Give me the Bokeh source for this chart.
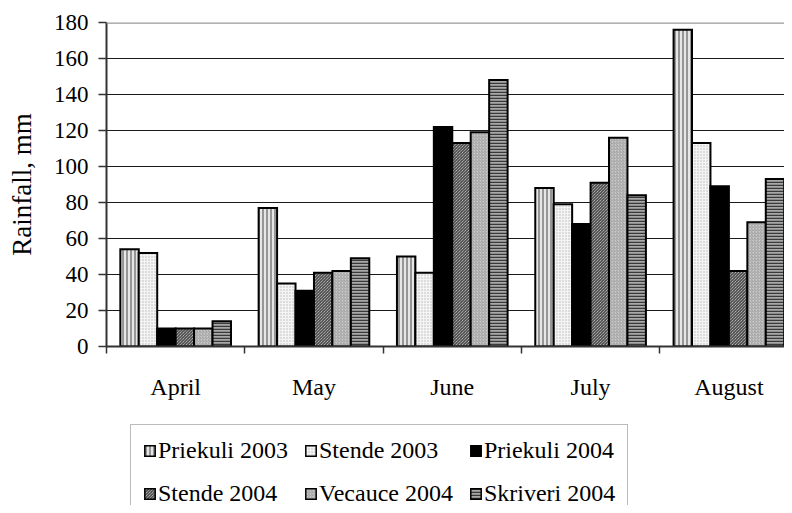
from bokeh.plotting import figure
from bokeh.layouts import column
from bokeh.models import (ColumnDataSource, Range1d, FixedTicker, Legend, LegendItem, Span)
from bokeh.transform import dodge
from bokeh.embed import file_html
from bokeh.resources import INLINE

months = ["April", "May", "June", "July", "August"]
series_names = ["Priekuli 2003", "Stende 2003", "Priekuli 2004",
                "Stende 2004", "Vecauce 2004", "Skriveri 2004"]
priekuli_2003 = [54, 77, 50, 88, 176]
stende_2003 = [52, 35, 41, 79, 113]
priekuli_2004 = [10, 31, 122, 68, 89]
stende_2004 = [10, 41, 113, 91, 42]
vecauce_2004 = [10, 42, 119, 116, 69]
skriveri_2004 = [14, 49, 148, 84, 93]
y_ticks = [0, 20, 40, 60, 80, 100, 120, 140, 160, 180]

values = [priekuli_2003, stende_2003, priekuli_2004, stende_2004, vecauce_2004, skriveri_2004]

styles = [
    dict(fill_color="#e6e6e6", hatch_pattern="vertical_line", hatch_color="#7a7a7a", hatch_scale=4, hatch_weight=1.5),
    dict(fill_color="#f4f4f4", hatch_pattern="dot", hatch_color="#b8b8b8", hatch_scale=3, hatch_weight=1),
    dict(fill_color="#000000"),
    dict(fill_color="#d8d8d8", hatch_pattern="left_diagonal_line", hatch_color="#2a2a2a", hatch_scale=3, hatch_weight=1),
    dict(fill_color="#cacaca", hatch_pattern="right_diagonal_line", hatch_color="#a0a0a0", hatch_scale=3, hatch_weight=1),
    dict(fill_color="#a8a8a8", hatch_pattern="horizontal_line", hatch_color="#3a3a3a", hatch_scale=3, hatch_weight=1.5),
]

FONT = "Liberation Serif"

data = {"x": [i + 0.5 for i in range(len(months))]}
for k, v in enumerate(values):
    data["s%d" % k] = v
source = ColumnDataSource(data)

p = figure(width=784, height=421, output_backend="svg", toolbar_location=None,
           x_range=Range1d(0, 4.902), y_range=Range1d(0, 180),
           min_border_left=106, min_border_top=22, min_border_right=0, min_border_bottom=75)
p.outline_line_color = None
p.background_fill_color = "white"
p.border_fill_color = "white"

bw = 0.8 / 6
for k in range(6):
    p.vbar(x=dodge("x", (k - 2.5) * bw, range=p.x_range), top="s%d" % k, width=bw,
           source=source, line_color="black", line_width=2, line_join="miter", **styles[k])

# Axes
p.yaxis.ticker = FixedTicker(ticks=y_ticks, minor_ticks=[])
p.yaxis.major_label_text_font = FONT
p.yaxis.major_label_text_font_size = "23px"
p.yaxis.major_label_text_color = "black"
p.yaxis.major_tick_out = 8
p.yaxis.major_tick_in = 0
p.yaxis.major_tick_line_color = "#333333"
p.yaxis.major_tick_line_width = 1.5
p.yaxis.minor_tick_line_color = None
p.yaxis.axis_line_color = "#333333"
p.yaxis.axis_line_width = 2
p.yaxis.major_label_standoff = 10
p.yaxis.axis_label = "Rainfall, mm"
p.yaxis.axis_label_text_font = FONT
p.yaxis.axis_label_text_font_size = "27px"
p.yaxis.axis_label_text_font_style = "normal"
p.yaxis.axis_label_text_color = "black"
p.yaxis.axis_label_standoff = 14

p.xaxis.ticker = FixedTicker(ticks=[i + 0.5 for i in range(len(months))],
                             minor_ticks=list(range(len(months) + 1)))
p.xaxis.major_label_overrides = {i + 0.5: m for i, m in enumerate(months)}
p.xaxis.major_label_text_font = FONT
p.xaxis.major_label_text_font_size = "24px"
p.xaxis.major_label_text_color = "black"
p.xaxis.major_tick_line_color = None
p.xaxis.major_tick_out = 0
p.xaxis.minor_tick_out = 7
p.xaxis.minor_tick_in = 0
p.xaxis.minor_tick_line_color = "#333333"
p.xaxis.minor_tick_line_width = 1.5
p.xaxis.axis_line_color = "#333333"
p.xaxis.axis_line_width = 2
p.xaxis.major_label_standoff = 20

p.xgrid.grid_line_color = None
p.ygrid.ticker = FixedTicker(ticks=y_ticks[1:-1])
p.ygrid.grid_line_color = "#1a1a1a"
p.ygrid.grid_line_width = 1.2

top_line = Span(location=y_ticks[-1], dimension="width", line_color="#999999", line_width=2.5)
p.add_layout(top_line)

# Legend panel: hidden renderers supply the legend keys
p2 = figure(width=784, height=84, output_backend="svg", toolbar_location=None,
            x_range=Range1d(0, 1), y_range=Range1d(0, 1),
            min_border_left=0, min_border_top=0, min_border_right=0, min_border_bottom=0)
p2.axis.visible = False
p2.grid.visible = False
p2.outline_line_color = None
renderers = []
for k in range(6):
    r = p2.vbar(x="x", top="s%d" % k, width=bw, source=source,
                line_color="black", line_width=1.5, line_join="miter", **styles[k])
    r.visible = False
    renderers.append(r)

# Bokeh fills legend columns first; order items so rows read as in the reference
order = [0, 3, 1, 4, 2, 5]
items = [LegendItem(label=series_names[k], renderers=[renderers[k]]) for k in order]

legend = Legend(items=items, location=(24, -15), ncols=3,
                label_text_font="'Liberation Serif', serif", label_text_font_size="24px",
                label_text_color="black",
                glyph_width=13, glyph_height=13, label_standoff=2, spacing=16,
                padding=12, margin=0, label_height=27,
                inactive_fill_alpha=0,
                border_line_color="#777777", border_line_width=1.5,
                background_fill_color="white", background_fill_alpha=1)
p2.add_layout(legend, "center")

layout = column(p, p2, spacing=0)
open("out.html", "w").write(file_html(layout, INLINE))
